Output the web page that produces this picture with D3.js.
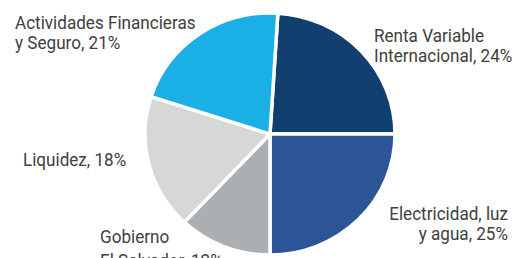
<!DOCTYPE html>
<html>
<head>
<meta charset="utf-8">
<script src="https://cdn.jsdelivr.net/npm/d3@7"></script>
<style>
  html, body { margin: 0; padding: 0; background: #fff; }
  svg { display: block; }
</style>
</head>
<body>
<div id="chart"></div>
<script>
// slices, clockwise from the top
const categories = ["Renta Variable Internacional", "Electricidad, luz y agua", "Gobierno El Salvador", "Liquidez", "Actividades Financieras y Seguro"];
const values = [24, 25, 12, 18, 21];
const colors = ["#113f6f", "#2b5596", "#acafb1", "#d6d8d6", "#1aafe5"];
const labelLines = [
  ["Renta Variable", "Internacional, 24%"],
  ["Electricidad, luz", "y agua, 25%"],
  ["Gobierno", "El Salvador, 12%"],
  ["Liquidez, 18%"],
  ["Actividades Financieras", "y Seguro, 21%"]
];

const width = 519, height = 258;
const cx = 270, cy = 134, r = 125, squash = 0.968;

const svg = d3.select("#chart").append("svg")
  .attr("width", width)
  .attr("height", height);

const start = 0.01 * 2 * Math.PI;
const pie = d3.pie().sort(null).startAngle(start).endAngle(start + 2 * Math.PI);
const arc = d3.arc().innerRadius(0).outerRadius(r);

const g = svg.append("g")
  .attr("transform", `translate(${cx},${cy}) scale(1,${squash})`);

g.selectAll("path")
  .data(pie(values))
  .join("path")
  .attr("d", arc)
  .attr("fill", (d, i) => colors[i])
  .attr("stroke", "#fff")
  .attr("stroke-width", 3.5)
  .attr("stroke-linejoin", "miter");

// label anchor points
const labelPos = [
  {x: 374, y: 42, anchor: "start", lh: 20},
  {x: 508, y: 220, anchor: "end", lh: 20},
  {x: 100, y: 243, anchor: "start", lh: 24},
  {x: 23, y: 166, anchor: "start", lh: 20},
  {x: 15, y: 29, anchor: "start", lh: 20}
];
const squeeze = 0.95;

labelLines.forEach((lines, i) => {
  const p = labelPos[i];
  const t = svg.append("text")
    .attr("transform", `translate(${p.x},${p.y}) scale(${squeeze},1)`)
    .attr("text-anchor", p.anchor)
    .attr("font-family", "Roboto, sans-serif")
    .attr("font-size", 18)
    .attr("fill", "#404040");
  lines.forEach((s, k) => {
    t.append("tspan").attr("x", 0).attr("y", k * p.lh).text(s);
  });
});
</script>
</body>
</html>
